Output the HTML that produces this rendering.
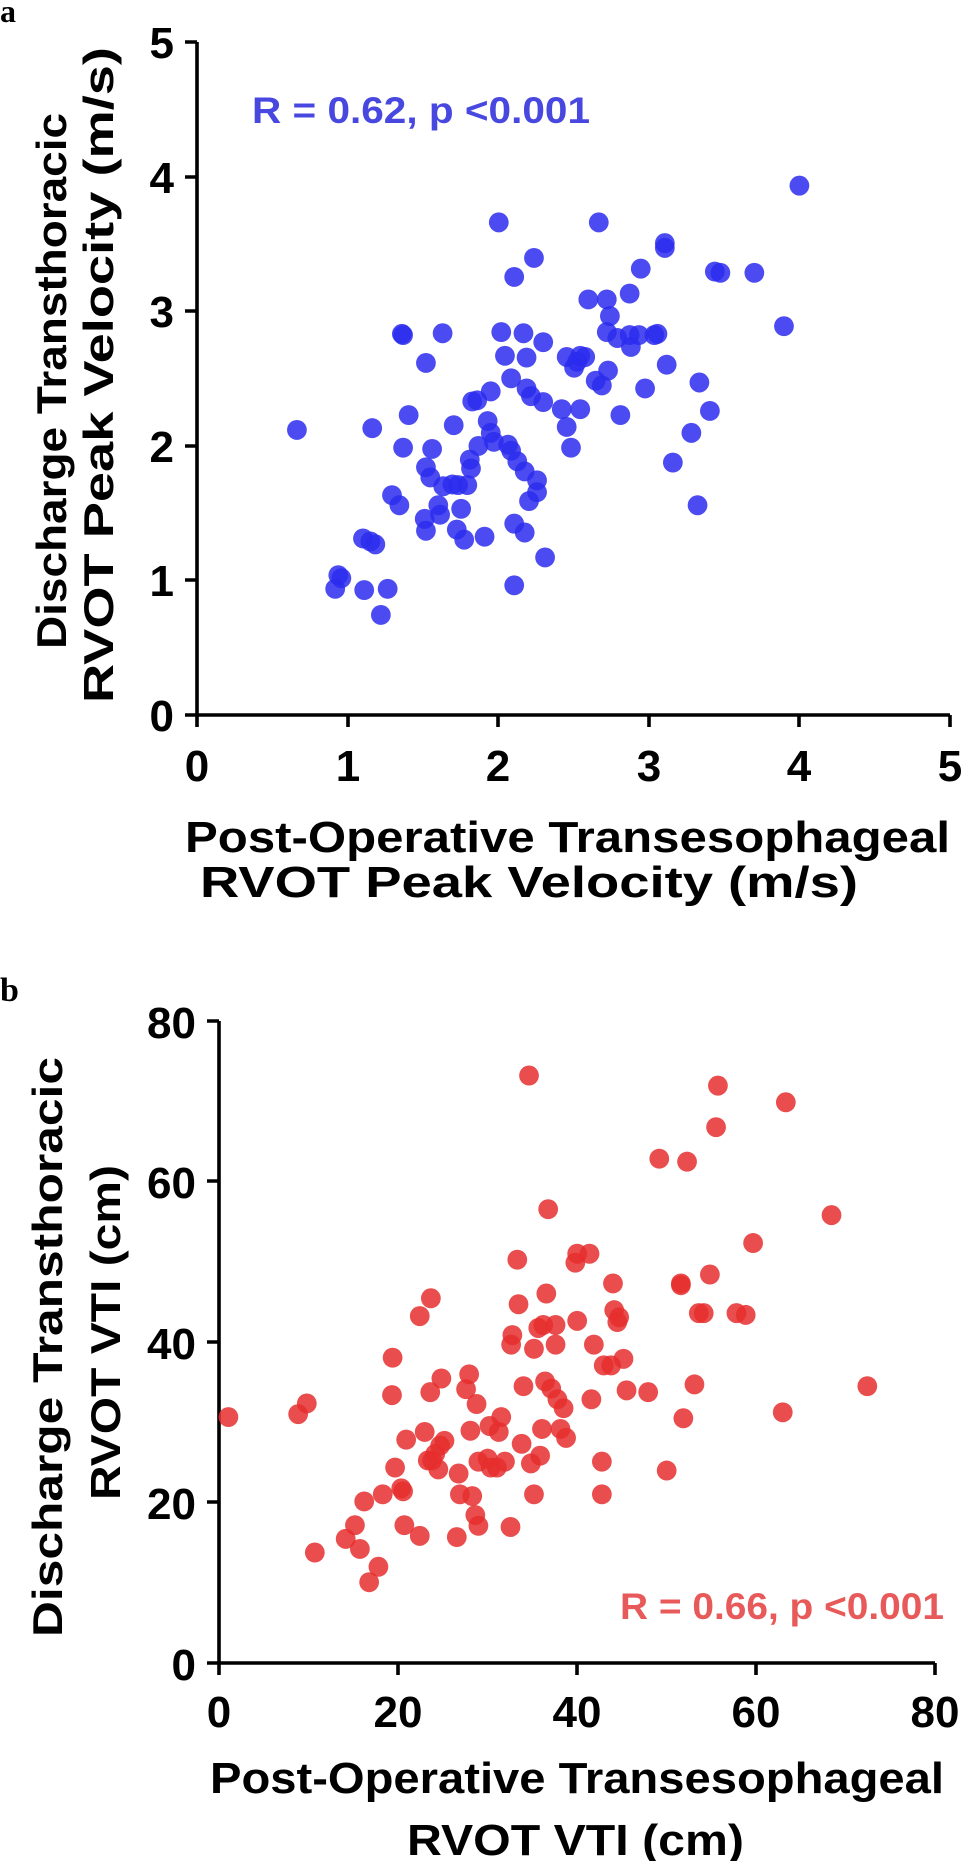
<!DOCTYPE html>
<html><head><meta charset="utf-8"><style>
html,body{margin:0;padding:0;background:#fff;}
svg{display:block;}
text{font-family:"Liberation Sans",Arial,sans-serif;font-weight:bold;fill:#000;}
.lt{font-family:"Liberation Serif",serif;}
</style></head><body>
<svg width="968" height="1861" viewBox="0 0 968 1861" xmlns="http://www.w3.org/2000/svg">
<rect width="968" height="1861" fill="#fff"/>
<!-- chart a -->
<text x="0" y="22" font-size="32" class="lt">a</text>
<g stroke="#000" stroke-width="3.6" fill="none">
<path d="M197 42 V715 H950"/>
<path d="M185 42H197M185 177H197M185 311H197M185 446H197M185 580H197M185 715H197"/>
<path d="M197 715V727M348 715V727M498 715V727M649 715V727M799 715V727M950 715V727"/>
</g>
<g font-size="44" text-anchor="end">
<text x="174" y="58">5</text><text x="174" y="193">4</text><text x="174" y="327">3</text><text x="174" y="462">2</text><text x="174" y="596">1</text><text x="174" y="731">0</text>
</g>
<g font-size="44" text-anchor="middle">
<text x="197" y="781">0</text><text x="348" y="781">1</text><text x="498" y="781">2</text><text x="649" y="781">3</text><text x="799" y="781">4</text><text x="950" y="781">5</text>
</g>
<text x="185" y="852" font-size="44" textLength="765" lengthAdjust="spacingAndGlyphs">Post-Operative  Transesophageal</text>
<text x="200" y="897" font-size="44" textLength="658" lengthAdjust="spacingAndGlyphs">RVOT Peak  Velocity  (m/s)</text>
<text transform="translate(66,649) rotate(-90)" font-size="42" textLength="536" lengthAdjust="spacingAndGlyphs">Discharge Transthoracic</text>
<text transform="translate(113,703) rotate(-90)" font-size="42" textLength="656" lengthAdjust="spacingAndGlyphs">RVOT  Peak Velocity  (m/s)</text>
<text x="252" y="123" font-size="37" style="fill:#4848e0" textLength="338" lengthAdjust="spacingAndGlyphs">R = 0.62, p &lt;0.001</text>
<g transform="scale(0.6173,0.593)"><g fill="#2c2cee" fill-opacity="0.85" id="A"></g></g>

<!-- chart b -->
<text x="0" y="1001" font-size="34" class="lt">b</text>
<g stroke="#000" stroke-width="3.6" fill="none">
<path d="M219 1021 V1663 H935"/>
<path d="M207 1021H219M207 1181H219M207 1342H219M207 1502H219M207 1663H219"/>
<path d="M219 1663V1675M398 1663V1675M577 1663V1675M756 1663V1675M935 1663V1675"/>
</g>
<g font-size="44" text-anchor="end">
<text x="196" y="1038">80</text><text x="196" y="1198">60</text><text x="196" y="1359">40</text><text x="196" y="1519">20</text><text x="196" y="1680">0</text>
</g>
<g font-size="44" text-anchor="middle">
<text x="219" y="1727">0</text><text x="398" y="1727">20</text><text x="577" y="1727">40</text><text x="756" y="1727">60</text><text x="935" y="1727">80</text>
</g>
<text x="210" y="1793" font-size="44" textLength="734" lengthAdjust="spacingAndGlyphs">Post-Operative  Transesophageal</text>
<text x="407" y="1855" font-size="44" textLength="337" lengthAdjust="spacingAndGlyphs">RVOT VTI  (cm)</text>
<text transform="translate(62,1637) rotate(-90)" font-size="42" textLength="580" lengthAdjust="spacingAndGlyphs">Discharge Transthoracic</text>
<text transform="translate(120,1500) rotate(-90)" font-size="42" textLength="335" lengthAdjust="spacingAndGlyphs">RVOT  VTI  (cm)</text>
<text x="620" y="1619" font-size="37" style="fill:#e85a5a" textLength="324" lengthAdjust="spacingAndGlyphs">R = 0.66, p &lt;0.001</text>
<g transform="translate(0,930) scale(0.6173,0.594)"><g fill="#e62e2e" fill-opacity="0.85" id="B"></g></g>
</svg>
<script>
var a=[[481,725],[543,993],[548,970],[553,975],[588,908],[590,995],[600,913],[603,722],[608,918],[617,1037],[628,993],[635,835],[647,852],[653,755],[651,563],[653,565],[662,700],[690,612],[690,895],[688,875],[700,757],[690,788],[697,805],[713,868],[710,852],[717,562],[718,820],[733,817],[735,717],[740,893],[742,818],[747,858],[752,910],[757,818],[761,775],[763,790],[765,677],[773,675],[775,752],[785,905],[795,730],[795,660],[790,710],[800,745],[808,375],[812,560],[818,600],[823,750],[828,760],[828,638],[833,883],[833,987],[833,467],[838,778],[850,898],[850,795],[848,562],[853,603],[853,655],[857,845],[865,435],[860,668],[870,830],[870,810],[880,577],[880,678],[883,940],[910,690],[918,602],[918,720],[925,755],[930,620],[935,610],[940,600],[940,690],[948,602],[953,505],[965,642],[970,375],[975,650],[983,560],[983,505],[988,533],[985,625],[1000,570],[1005,700],[1020,565],[1020,495],[1022,585],[1035,565],[1045,655],[1038,453],[1060,565],[1065,563],[1077,418],[1077,410],[1080,615],[1090,780],[1120,730],[1130,852],[1133,645],[1150,693],[1158,458],[1167,460],[1222,460],[1270,550],[1295,313]];
var b=[[370,820],[483,815],[497,797],[510,1048],[560,1025],[575,1002],[583,1042],[590,962],[598,1098],[613,1072],[620,950],[636,720],[635,783],[640,905],[650,940],[653,945],[655,1002],[658,858],[680,1020],[680,650],[688,845],[693,893],[697,778],[698,620],[700,893],[705,882],[710,908],[713,868],[715,755],[720,860],[740,1022],[743,915],[745,950],[755,773],[760,748],[762,843],[765,953],[770,985],[772,798],[775,1003],[775,895],[790,890],[793,835],[795,905],[805,905],[808,845],[812,820],[818,895],[827,1005],[828,698],[830,682],[838,555],[840,630],[845,865],[848,768],[857,245],[860,898],[865,705],[865,950],[872,670],[875,885],[878,840],[880,665],[883,760],[885,612],[888,470],[893,772],[900,665],[900,698],[903,790],[908,840],[913,805],[917,855],[932,560],[935,545],[935,658],[955,545],[958,790],[962,698],[975,895],[975,950],[978,733],[990,733],[993,595],[995,640],[1000,660],[1003,652],[1010,722],[1015,775],[1050,778],[1068,385],[1080,910],[1103,595],[1103,598],[1107,822],[1113,390],[1125,765],[1132,645],[1140,645],[1150,580],[1160,332],[1163,262],[1193,645],[1208,648],[1220,527],[1268,812],[1273,290],[1347,480],[1405,768]];
function put(id,arr){var g=document.getElementById(id),s='';arr.forEach(function(p){s+='<ellipse cx="'+p[0]+'" cy="'+p[1]+'" rx="16" ry="16.8"/>';});g.innerHTML=s;}
put('A',a);put('B',b);
</script>
</body></html>
